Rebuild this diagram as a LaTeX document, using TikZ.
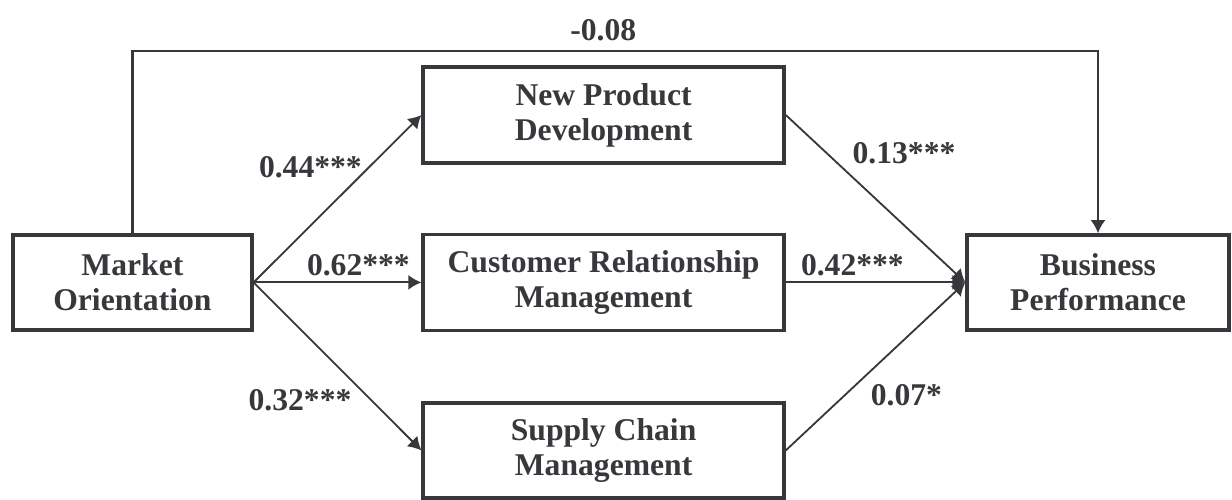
\documentclass[tikz,border=0pt]{standalone}
\usepackage{fontspec}
\setmainfont{Liberation Serif}
\usepackage{tikz}
\usetikzlibrary{arrows.meta,positioning}
\definecolor{inkgray}{RGB}{56,56,60}

\begin{document}
\begin{tikzpicture}[
    every node/.style={font=\fontsize{22.5pt}{25pt}\selectfont\bfseries,text=inkgray},
    box/.style={rectangle,draw=inkgray,line width=2.4pt,fill=white,minimum width=9.025cm,minimum height=2.4cm,align=center,inner sep=0pt},
    endbox/.style={box,minimum height=2.375cm},
    arrow/.style={-{Latex[length=3.25mm,width=3.75mm]},line width=1.3pt,draw=inkgray}
  ]
    \useasboundingbox (0,0) rectangle (30.8,12.5);
    \node[box] (npd) at (15.09,9.625) {New Product\\Development};
    \node[box] (crm) at (15.09,5.44) {Customer Relationship\\Management};
    \node[box,minimum height=2.375cm] (scm) at (15.09,1.24) {Supply Chain\\Management};
    \node[endbox,minimum width=5.975cm] (mo) at (3.31,5.44) {Market\\Orientation};
    \node[endbox,minimum width=6.55cm] (bp) at (27.45,5.44) {Business\\Performance};
    % path coefficients
    \node (direct) at (15.08,11.75) {-0.08};
    \node (c1) at (7.76,8.325) {0.44***};
    \node (c2) at (8.96,5.875) {0.62***};
    \node (c3) at (7.5,2.5) {0.32***};
    \node (c4) at (22.6,8.675) {0.13***};
    \node (c5) at (21.31,5.875) {0.42***};
    \node (c6) at (22.66,2.625) {0.07*};
    % direct effect over the top
    \coordinate (over) at (15.09,11.225);
    \draw[arrow,line width=1.7pt] (mo.north) |- (over) -| (bp.north);
    \draw[arrow] (mo.east) -- (npd.west);
    \draw[arrow,line width=1.5pt] (mo.east) -- (crm.west);
    \draw[arrow] (mo.east) -- (scm.west);
    \draw[arrow] (npd.east) -- (bp.west);
    \draw[arrow,line width=1.5pt] (crm.east) -- (bp.west);
    \draw[arrow] (scm.east) -- (bp.west);
  \end{tikzpicture}
\end{document}
